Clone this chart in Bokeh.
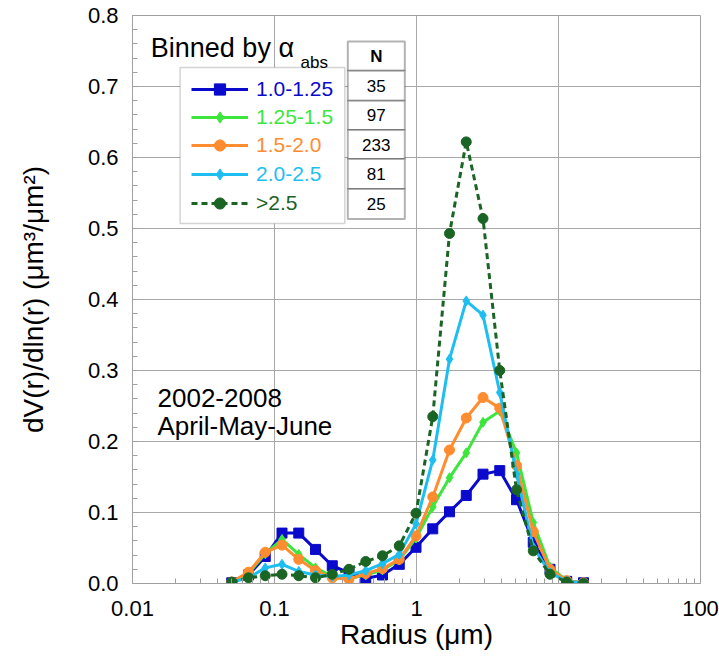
from bokeh.plotting import figure
from bokeh.models import (FixedTicker, PrintfTickFormatter, Label, BoxAnnotation,
                          Legend, LegendItem)
from bokeh.embed import file_html
from bokeh.resources import INLINE

# ---------------- data ----------------
radius = [0.05, 0.065604, 0.086077, 0.112939, 0.148184, 0.194429, 0.255105,
          0.334716, 0.439173, 0.576227, 0.756052, 0.991996, 1.301571, 1.707757,
          2.240702, 2.939966, 3.857452, 5.061260, 6.640745, 8.713145,
          11.432287, 15.0]

series_labels = ["1.0-1.25", "1.25-1.5", "1.5-2.0", "2.0-2.5", ">2.5"]
series_n = ["35", "97", "233", "81", "25"]

dv_100_125 = [0.001, 0.012, 0.038, 0.071, 0.071, 0.048, 0.025, 0.015, 0.007, 0.012,
              0.027, 0.051, 0.077, 0.101, 0.124, 0.154, 0.159, 0.118, 0.058, 0.020,
              0.003, 0.001]
dv_125_150 = [0.002, 0.014, 0.042, 0.062, 0.041, 0.022, 0.010, 0.007, 0.012, 0.019,
              0.033, 0.064, 0.108, 0.149, 0.184, 0.227, 0.243, 0.184, 0.086, 0.023,
              0.004, 0.001]
dv_150_200 = [0.002, 0.016, 0.044, 0.054, 0.034, 0.018, 0.008, 0.006, 0.014, 0.021,
              0.034, 0.067, 0.122, 0.188, 0.233, 0.262, 0.247, 0.166, 0.073, 0.020,
              0.004, 0.001]
dv_200_250 = [0.002, 0.008, 0.022, 0.027, 0.017, 0.012, 0.010, 0.012, 0.018, 0.028,
              0.041, 0.084, 0.174, 0.316, 0.398, 0.378, 0.269, 0.154, 0.051, 0.015,
              0.003, 0.001]
dv_gt_250 = [0.002, 0.008, 0.011, 0.013, 0.011, 0.008, 0.013, 0.020, 0.031, 0.039,
             0.053, 0.099, 0.235, 0.493, 0.622, 0.514, 0.300, 0.132, 0.046, 0.013,
             0.002, 0.000]

x_ticks = [0.01, 0.1, 1, 10, 100]
x_tick_labels = ["0.01", "0.1", "1", "10", "100"]
x_minor_ticks = [k * 10.0 ** d for d in range(-2, 2) for k in range(2, 10)]
y_ticks = [0.0, 0.1, 0.2, 0.3, 0.4, 0.5, 0.6, 0.7, 0.8]
y_minor_ticks = [i * 0.02 for i in range(41)]

# ---------------- styles ----------------
FONT = "Liberation Sans"
colors = ["#0A0ACC", "#3CE63C", "#FF8C2E", "#1EBEF0", "#1A6424"]
markers = ["square", "diamond", "circle", "diamond", "circle"]
msizes = [10, 10, 10, 10, 10]
dashes = ["solid", "solid", "solid", "solid", "6 4"]
all_series = [dv_100_125, dv_125_150, dv_150_200, dv_200_250, dv_gt_250]

FW = 568.0  # frame size in px (square)


def fx(px):
    return 10 ** (-2 + 4 * px / FW)


def fy(px):
    return 0.8 - 0.8 * px / FW


p = figure(width=719, height=657, x_axis_type="log", x_range=(0.01, 100),
           y_range=(0, 0.8), output_backend="svg", toolbar_location=None,
           min_border_left=132, min_border_right=19, min_border_top=15,
           min_border_bottom=74)
p.background_fill_color = "white"
p.border_fill_color = "white"
p.outline_line_color = "#A0A0A0"

# axes
p.xaxis.ticker = FixedTicker(ticks=x_ticks, minor_ticks=x_minor_ticks)
p.xaxis.major_label_overrides = dict(zip(x_ticks, x_tick_labels))
p.yaxis.ticker = FixedTicker(ticks=y_ticks, minor_ticks=y_minor_ticks)
p.yaxis.formatter = PrintfTickFormatter(format="%.1f")
for ax in (p.xaxis, p.yaxis):
    ax.axis_line_color = "#A0A0A0"
    ax.major_tick_line_color = "#A0A0A0"
    ax.minor_tick_line_color = "#A0A0A0"
    ax.major_tick_in = 5
    ax.major_tick_out = 0
    ax.minor_tick_in = 5
    ax.minor_tick_out = 0
    ax.major_label_text_font = FONT
    ax.major_label_text_font_size = "22px"
    ax.major_label_text_color = "black"
    ax.axis_label_text_font = FONT
    ax.axis_label_text_font_size = "28px"
    ax.axis_label_text_font_style = "normal"
    ax.axis_label_text_color = "black"
p.xaxis.major_label_standoff = 17
p.yaxis.major_label_standoff = 14
p.xaxis.axis_label = "Radius (μm)"
p.yaxis.axis_label = "dV(r)/dln(r) (μm³/μm²)"
p.xaxis.axis_label_standoff = 0
p.yaxis.axis_label_standoff = 36

p.xgrid.ticker = FixedTicker(ticks=x_ticks)
p.ygrid.ticker = FixedTicker(ticks=y_ticks)
for g in (p.xgrid, p.ygrid):
    g.grid_line_color = "#A8A8A8"
    g.grid_line_width = 1

# series
renderers = []
for vals, c, m, s, d in zip(all_series, colors, markers, msizes, dashes):
    lr = p.line(radius, vals, line_color=c, line_width=3, line_dash=d)
    sr = p.scatter(radius, vals, marker=m, size=s, fill_color=c, line_color=c)
    renderers.append((lr, sr))

# legend frame
p.add_layout(BoxAnnotation(left=fx(47.6), right=fx(212.3), top=fy(52), bottom=fy(208),
                           fill_color="white", fill_alpha=1.0,
                           line_color="#707070", line_width=1.5, level="annotation"))

legend_vy = [479.7, 452.0, 423.7, 395.4, 366.0]
for (lr, sr), lab, c, vy in zip(renderers, series_labels, colors, legend_vy):
    leg = Legend(items=[LegendItem(label=lab, renderers=[lr, sr])],
                 location=(59, vy), padding=0, margin=0, spacing=0,
                 glyph_width=57, glyph_height=28, label_height=28,
                 label_standoff=8, label_text_font=FONT,
                 label_text_font_size="21px", label_text_color=c,
                 border_line_alpha=0, background_fill_alpha=0)
    p.add_layout(leg)

# N table
row_lines = [26.0, 55.3, 85.3, 114.6, 143.6, 173.6, 203.6]
tl, tr = 215.3, 272.3
for i in range(len(row_lines) - 1):
    p.add_layout(BoxAnnotation(left=fx(tl), right=fx(tr), top=fy(row_lines[i]),
                               bottom=fy(row_lines[i + 1]), fill_color="white",
                               fill_alpha=1.0, line_color="black", line_width=2,
                               level="annotation"))
xc = fx((tl + tr) / 2)
cells = ["N"] + series_n
for i, t in enumerate(cells):
    yc = fy((row_lines[i] + row_lines[i + 1]) / 2)
    p.add_layout(Label(x=xc, y=yc, text=t, text_align="center", text_baseline="middle",
                       text_font=FONT, text_font_size="17px",
                       text_font_style="bold" if i == 0 else "normal",
                       text_color="black"))

# title texts
p.add_layout(Label(x=fx(18.3), y=fy(32), text="Binned by α", text_font=FONT,
                   text_font_size="27px", text_baseline="alphabetic", text_color="black"))
p.add_layout(Label(x=fx(168), y=fy(47.3), text="abs", text_font=FONT,
                   text_font_size="17px", text_baseline="alphabetic", text_color="black"))
p.add_layout(Label(x=fx(25), y=fy(382), text="2002-2008", text_font=FONT,
                   text_font_size="26px", text_baseline="alphabetic", text_color="black"))
p.add_layout(Label(x=fx(25), y=fy(410.3), text="April-May-June", text_font=FONT,
                   text_font_size="26px", text_baseline="alphabetic", text_color="black"))

open("out.html", "w").write(file_html(p, INLINE))
